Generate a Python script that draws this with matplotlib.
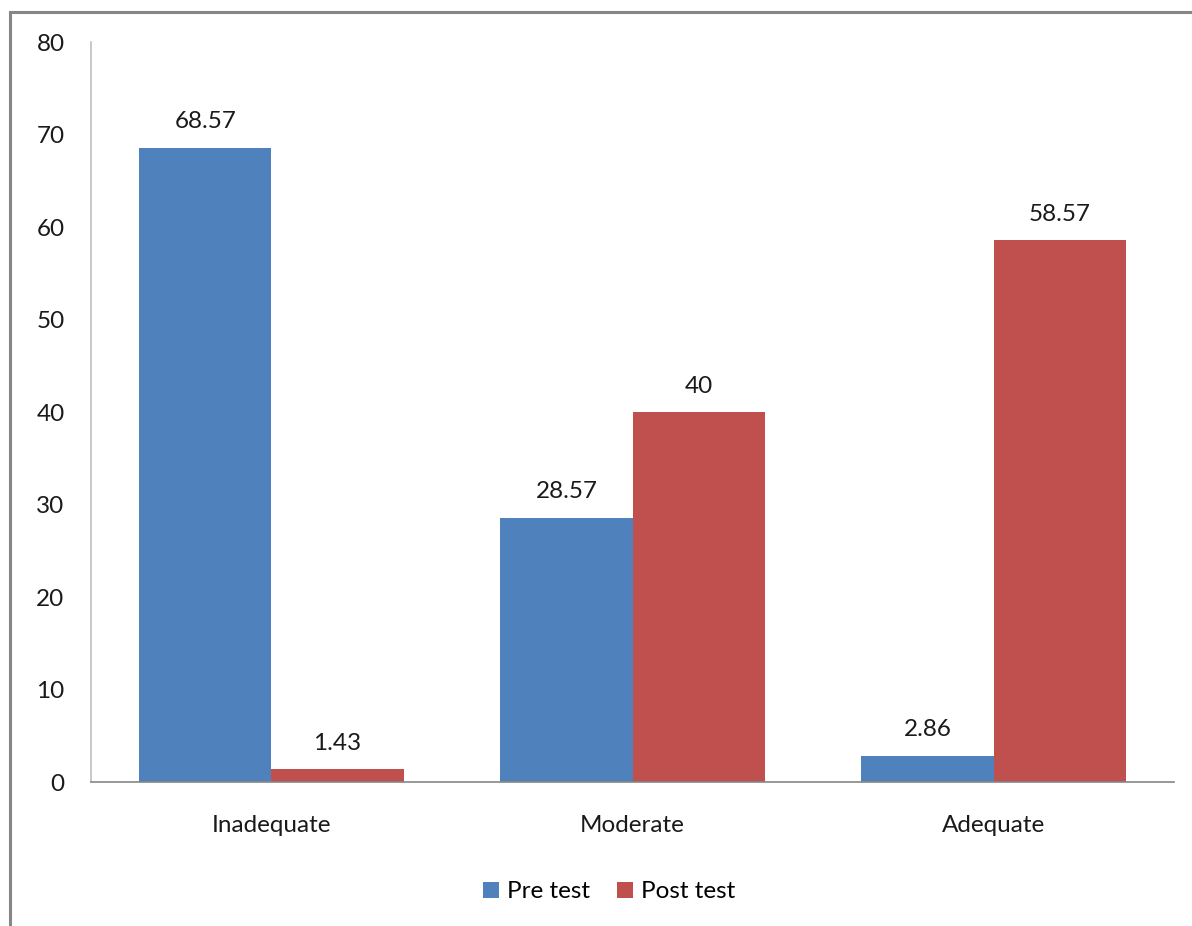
import numpy as np
import matplotlib
matplotlib.use("Agg")
from matplotlib import pyplot as plt
from matplotlib.patches import Rectangle

categories = ["Inadequate", "Moderate", "Adequate"]
pre_test = [68.57, 28.57, 2.86]
post_test = [1.43, 40, 58.57]
pre_labels = ["68.57", "28.57", "2.86"]
post_labels = ["1.43", "40", "58.57"]
yticks = [0, 10, 20, 30, 40, 50, 60, 70, 80]

BLUE = "#4F81BD"
RED = "#C0504D"
GRID = "#868686"
FS = 17.5

plt.rcParams['font.family'] = ['Lato', 'DejaVu Sans']

fig = plt.figure(figsize=(11.92, 9.26), dpi=100)
ax = fig.add_axes([0.0763, 0.1555, 0.9087, 0.7991])

x = np.arange(len(categories))
w = 0.366
b1 = ax.bar(x - w/2, pre_test, w, color=BLUE, label="Pre test")
b2 = ax.bar(x + w/2, post_test, w, color=RED, label="Post test")

for bars, labs in ((b1, pre_labels), (b2, post_labels)):
    for r, t in zip(bars, labs):
        ax.annotate(t, (r.get_x() + r.get_width()/2, r.get_height()),
                    xytext=(0, 11), textcoords="offset points",
                    ha="center", va="bottom", fontsize=FS, color="#1a1a1a")

ax.set_xlim(-0.5, 2.5)
ax.set_ylim(0, 80)
ax.set_yticks(yticks)
ax.set_xticks(x)
ax.set_xticklabels(categories)
ax.tick_params(axis="both", length=0, labelsize=FS, colors="#1a1a1a")
ax.tick_params(axis="y", pad=19)
ax.tick_params(axis="x", pad=24)

for s in ("top", "right"):
    ax.spines[s].set_visible(False)
ax.spines["left"].set_color("#BFBFBF")
ax.spines["bottom"].set_color(GRID)
ax.spines["left"].set_linewidth(1.2)
ax.spines["bottom"].set_linewidth(1.2)

fig.legend(loc="center", bbox_to_anchor=(0.511, 0.037), ncol=2, frameon=False,
           fontsize=FS, handlelength=0.65, handleheight=0.65, handletextpad=0.35,
           columnspacing=1.1)

# outer chart frame (extends past right and bottom edge)
fig.patches.append(Rectangle((10/1192, -0.1), 1.2, 1 - 12/926 + 0.1,
                             transform=fig.transFigure, fill=False,
                             edgecolor=GRID, linewidth=2.2))

fig.savefig("out.png", dpi=100)
